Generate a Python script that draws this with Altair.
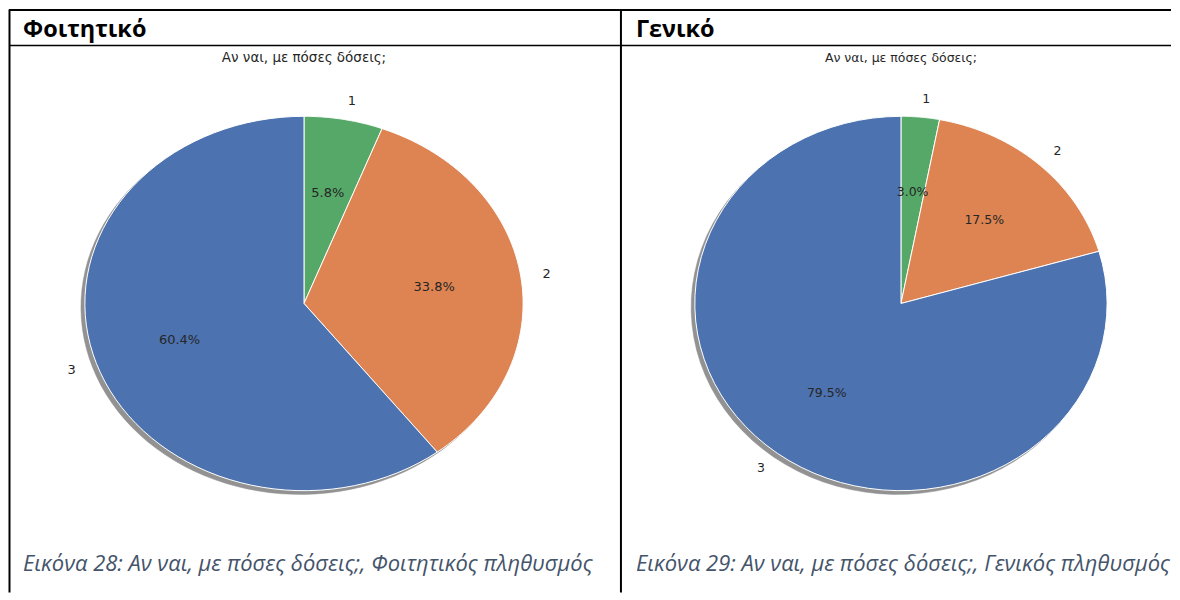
import altair as alt
import pandas as pd

# ---- data -------------------------------------------------------------
categories = ["1", "2", "3"]
student_pct = [5.8, 33.8, 60.4]
general_pct = [3.0, 17.5, 79.5]
panel_headers = ["Φοιτητικό", "Γενικό"]
chart_title = "Αν ναι, με πόσες δόσεις;"
captions = [
    "Εικόνα 28: Αν ναι, με πόσες δόσεις;, Φοιτητικός πληθυσμός",
    "Εικόνα 29: Αν ναι, με πόσες δόσεις;, Γενικός πληθυσμός",
]
slice_colors = ["#55A868", "#DD8452", "#4C72B0"]

N = 72
H = 584
TXT = "#262626"


def pie_panel(values, header, caption, width, cx, cy, rx, ry, header_x, caption_x, vline_x,
              font, title_size, label_size):
    df = pd.DataFrame({"cat": categories, "value": values})
    one = pd.DataFrame({"d": [0]})

    xs = alt.Scale(domain=[-1, 1], range=[cx - rx, cx + rx], nice=False, zero=False)
    ys = alt.Scale(domain=[-1, 1], range=[cy + ry, cy - ry], nice=False, zero=False)

    base = (
        alt.Chart(df)
        .transform_joinaggregate(total="sum(value)")
        .transform_window(cum="sum(value)", sort=[alt.SortField("cat")])
        .transform_calculate(
            t0="2*PI*(datum.cum - datum.value)/datum.total",
            t1="2*PI*datum.cum/datum.total",
        )
    )

    poly = (
        base.transform_calculate(k=f"sequence(0, {N + 3})")
        .transform_flatten(["k"])
        .transform_calculate(a=f"datum.t0 + (datum.t1 - datum.t0) * min(datum.k, {N}) / {N}")
        .transform_calculate(
            px=f"datum.k == {N + 1} ? 0 : (datum.k == {N + 2} ? sin(datum.t0) : sin(datum.a))",
            py=f"datum.k == {N + 1} ? 0 : (datum.k == {N + 2} ? cos(datum.t0) : cos(datum.a))",
        )
    )

    shadow = poly.transform_calculate(
        sx="datum.px - 0.018", sy="datum.py - 0.02"
    ).mark_line(fill="#929292", stroke="#929292", strokeWidth=0.5).encode(
        x=alt.X("sx:Q", scale=xs, axis=None),
        y=alt.Y("sy:Q", scale=ys, axis=None),
        detail="cat:N",
        order=alt.Order("k:Q"),
    )

    slices = poly.mark_line(stroke="white", strokeWidth=1, strokeJoin="round", fillOpacity=1).encode(
        x=alt.X("px:Q", scale=xs, axis=None),
        y=alt.Y("py:Q", scale=ys, axis=None),
        fill=alt.Fill("cat:N", scale=alt.Scale(domain=categories, range=slice_colors), legend=None),
        detail="cat:N",
        order=alt.Order("k:Q"),
    )

    lab = base.transform_calculate(
        mid="(datum.t0 + datum.t1)/2",
    ).transform_calculate(
        lx="1.1*sin(datum.mid)",
        ly="1.1*cos(datum.mid)",
        qx="0.6*sin(datum.mid)",
        qy="0.6*cos(datum.mid)",
        pct="format(100*datum.value/datum.total, '.1f') + '%'",
    )

    lab_right = lab.transform_filter("datum.lx >= 0").mark_text(
        align="left", baseline="middle", font=font, fontSize=label_size, color=TXT
    ).encode(x=alt.X("lx:Q", scale=xs, axis=None), y=alt.Y("ly:Q", scale=ys, axis=None), text="cat:N")
    lab_left = lab.transform_filter("datum.lx < 0").mark_text(
        align="right", baseline="middle", font=font, fontSize=label_size, color=TXT
    ).encode(x=alt.X("lx:Q", scale=xs, axis=None), y=alt.Y("ly:Q", scale=ys, axis=None), text="cat:N")
    pct = lab.mark_text(
        align="center", baseline="middle", font=font, fontSize=label_size, color=TXT
    ).encode(x=alt.X("qx:Q", scale=xs, axis=None), y=alt.Y("qy:Q", scale=ys, axis=None), text="pct:N")

    title = alt.Chart(one).mark_text(
        text=chart_title, align="center", baseline="middle", font=font, fontSize=title_size, color=TXT
    ).encode(x=alt.value(cx), y=alt.value(49))

    head = alt.Chart(one).mark_text(
        text=header, align="left", baseline="alphabetic", font="Open Sans", fontWeight="bold",
        fontSize=23.5, color="#000000"
    ).encode(x=alt.value(header_x), y=alt.value(28))

    cap = alt.Chart(one).mark_text(
        text=caption, align="left", baseline="alphabetic", font="Open Sans", fontStyle="italic",
        fontSize=22, color="#44546A"
    ).encode(x=alt.value(caption_x), y=alt.value(562))

    top_rule = alt.Chart(one).mark_rule(color="black", strokeWidth=2).encode(
        x=alt.value(0), x2=alt.value(width), y=alt.value(0.5))
    head_rule = alt.Chart(one).mark_rule(color="black", strokeWidth=1.5).encode(
        x=alt.value(0), x2=alt.value(width), y=alt.value(36))
    v_rule = alt.Chart(one).mark_rule(color="black", strokeWidth=2).encode(
        x=alt.value(vline_x), y=alt.value(0), y2=alt.value(H))

    return alt.layer(
        shadow, slices, lab_right, lab_left, pct, title, head, cap, top_rule, head_rule, v_rule
    ).properties(width=width, height=H)


left = pie_panel(student_pct, panel_headers[0], captions[0], 612,
                 295.5, 294.5, 219.5, 187.5, 14, 14, 0.5,
                 "DejaVu Sans", 13.5, 13)
right = pie_panel(general_pct, panel_headers[1], captions[1], 552,
                  281.5, 294.5, 206.5, 187.5, 16, 16, 1,
                  "DejaVu Sans", 12.5, 12.5)

chart = alt.hconcat(left, right, spacing=0, bounds="flush", padding=0).configure_view(
    stroke=None
).configure_concat(spacing=0)

chart.save("out.html", embed_options={"renderer": "svg", "actions": False})
